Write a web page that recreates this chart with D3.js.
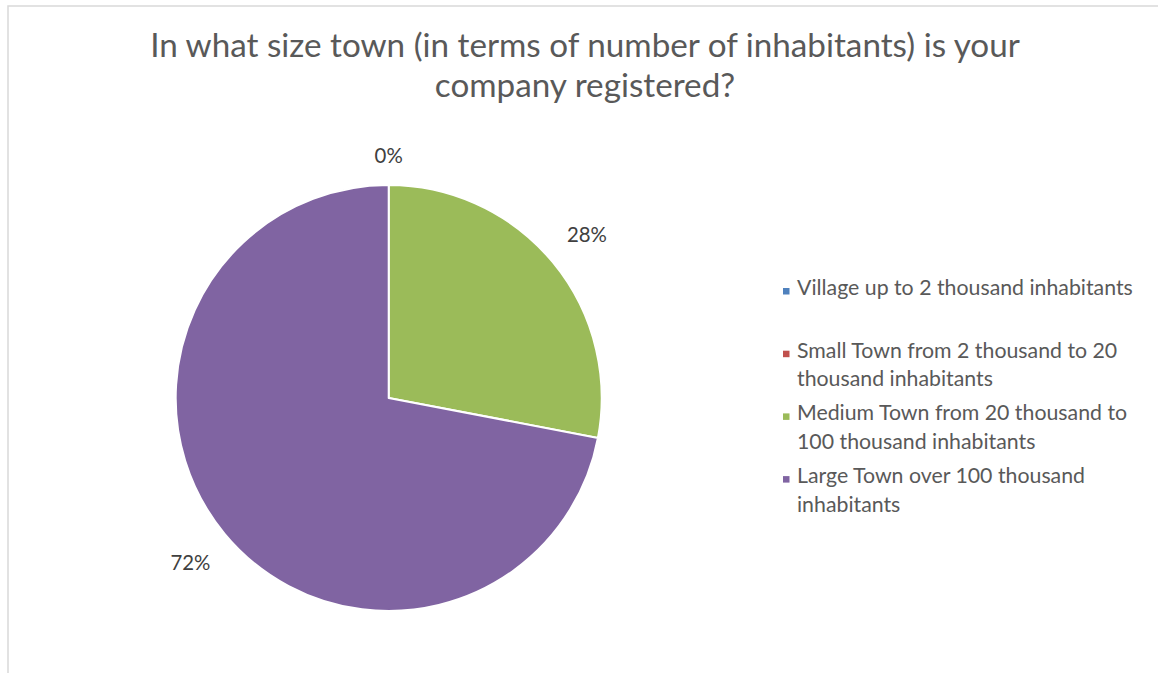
<!DOCTYPE html>
<html>
<head>
<meta charset="utf-8">
<script src="https://cdn.jsdelivr.net/npm/d3@7"></script>
<style>
  html, body { margin: 0; padding: 0; background: #fff; }
  svg { display: block; }
  text { font-family: Lato, "Liberation Sans", sans-serif; }
</style>
</head>
<body>
<svg id="chart" width="1158" height="673"></svg>
<script>
// Survey answers: size of town where the company is registered
const titleLines = [
  "In what size town (in terms of number of inhabitants) is your",
  "company registered?"
];
const categories = [
  "Village up to 2 thousand inhabitants",
  "Small Town from 2 thousand to 20 thousand inhabitants",
  "Medium Town from 20 thousand to 100 thousand inhabitants",
  "Large Town over 100 thousand inhabitants"
];
const shares = [0, 0, 28, 72];
const colors = ["#4F81BD", "#C0504D", "#9BBB59", "#8064A2"];

const svg = d3.select("#chart");
const W = 1158, H = 673;

// chart frame (only top and left edges fall inside the view)
svg.append("rect")
  .attr("x", 8).attr("y", 6)
  .attr("width", W + 20).attr("height", H + 20)
  .attr("fill", "#fff")
  .attr("stroke", "#d9d9d9").attr("stroke-width", 1.5);

// helper: font size so that a string spans a given width
function fitSize(str, targetWidth, baseSize) {
  const t = svg.append("text").attr("font-size", baseSize).text(str);
  const w = t.node().getComputedTextLength();
  t.remove();
  return baseSize * targetWidth / w;
}

// title
const titleSize = fitSize(titleLines[0], 870, 30);
svg.append("g").selectAll("text")
  .data(titleLines)
  .join("text")
  .attr("x", 585)
  .attr("y", (d, i) => 57 + i * 40)
  .attr("text-anchor", "middle")
  .attr("font-size", titleSize)
  .attr("fill", "#595959")
  .text(d => d);

// pie
const cx = 388.7, cy = 398, R = 213;
const pie = d3.pie().sort(null).value(d => d.value);
const arcs = pie(categories.map((c, i) => ({ name: c, value: shares[i], color: colors[i] })));
const arc = d3.arc().innerRadius(0).outerRadius(R);

const g = svg.append("g").attr("transform", `translate(${cx},${cy})`);
g.selectAll("path")
  .data(arcs.filter(a => a.data.value > 0))
  .join("path")
  .attr("d", arc)
  .attr("fill", d => d.data.color)
  .attr("stroke", "#fff")
  .attr("stroke-width", 2)
  .attr("stroke-linejoin", "round");

// data labels, placed just outside each slice
const legendSize = fitSize(categories[0], 336, 19);
const labelSize = fitSize("72%", 40, 20);
const seen = new Set();
const labelData = arcs.filter(a => {
  const key = ((a.startAngle + a.endAngle) / 2).toFixed(3);
  if (seen.has(key)) return false;
  seen.add(key);
  return true;
});
g.selectAll("text.lbl")
  .data(labelData)
  .join("text")
  .attr("class", "lbl")
  .attr("font-size", labelSize)
  .attr("fill", "#404040")
  .attr("text-anchor", "middle")
  .attr("dominant-baseline", "central")
  .text(d => d3.format(".0f")(d.data.value) + "%")
  .each(function(d) {
    const a = (d.startAngle + d.endAngle) / 2;
    const w = this.getComputedTextLength();
    const s = Math.sin(a), c = Math.cos(a);
    const off = R + 27 + Math.abs(s) * w / 2 + Math.abs(c) * 3;
    d3.select(this)
      .attr("x", off * s)
      .attr("y", -off * c);
  });

// legend
function wrap(str, maxW, size) {
  const words = str.split(" ");
  const lines = [];
  let line = "";
  const t = svg.append("text").attr("font-size", size);
  words.forEach(wd => {
    const test = line ? line + " " + wd : wd;
    t.text(test);
    if (t.node().getComputedTextLength() > maxW && line) {
      lines.push(line);
      line = wd;
    } else {
      line = test;
    }
  });
  lines.push(line);
  t.remove();
  return lines;
}

const legend = svg.append("g");
const items = legend.selectAll("g.item")
  .data(categories.map((c, i) => ({ name: c, color: colors[i], i })))
  .join("g")
  .attr("class", "item")
  .attr("transform", d => `translate(783,${295 + d.i * 62.7})`);

items.append("rect")
  .attr("x", 0).attr("y", -7)
  .attr("width", 6.5).attr("height", 6.5)
  .attr("fill", d => d.color);

items.each(function(d) {
  const lines = wrap(d.name, 345, legendSize);
  d3.select(this).selectAll("text")
    .data(lines)
    .join("text")
    .attr("x", 14)
    .attr("y", (l, j) => j * 28.5)
    .attr("font-size", legendSize)
    .attr("fill", "#595959")
    .text(l => l);
});
</script>
</body>
</html>
